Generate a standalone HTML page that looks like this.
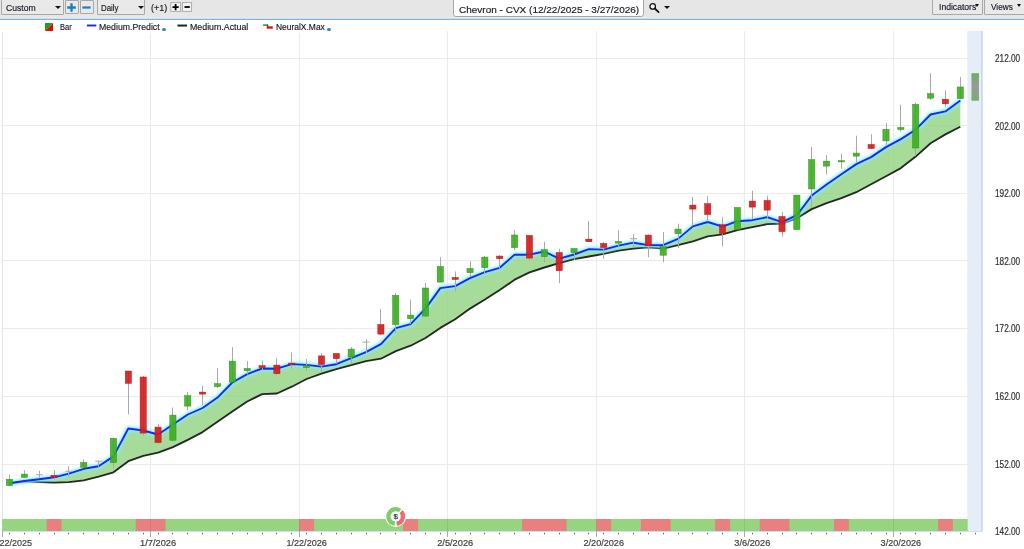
<!DOCTYPE html>
<html><head><meta charset="utf-8"><title>Chevron - CVX</title>
<style>
html,body{margin:0;padding:0;background:#fff;overflow:hidden}
body{width:1024px;height:549px;position:relative;font-family:"Liberation Sans",sans-serif;font-size:8.7px;color:#1a1a2a}
#chart{position:absolute;left:0;top:0}
#tb{position:absolute;left:0;top:0;width:1024px;height:17px;background:#e6e6e6;border-bottom:1px solid #edebe9}
#tbl{position:absolute;left:0;top:18px;width:1024px;height:1px;background:#d3dde6;border-bottom:1px solid #7ab7e1}
.box{position:absolute;top:-3px;height:17.5px;border:1px solid #a8a8a8;border-radius:1px;background:#e9e9e9;box-sizing:border-box}
.t{position:absolute;white-space:nowrap;line-height:1;transform-origin:0 0;color:#15151f;-webkit-text-stroke:0.15px #15151f}
.arr{position:absolute;width:0;height:0;border-left:3px solid transparent;border-right:3px solid transparent;border-top:3.4px solid #111}
.arr2{border-left-width:2.3px;border-right-width:2.3px;border-top-width:3px}
.lg{position:absolute;white-space:nowrap;line-height:1;top:23.3px;font-size:8.7px;color:#1a1a2a}
</style></head><body>
<svg id="chart" width="1024" height="549" viewBox="0 0 1024 549">
<defs><filter id="glow" x="-5%" y="-5%" width="110%" height="110%"><feGaussianBlur stdDeviation="1.6"/></filter><linearGradient id="ghost" x1="0" y1="0" x2="0" y2="1"><stop offset="0" stop-color="#63b356"/><stop offset="0.45" stop-color="#9a9a9a"/><stop offset="1" stop-color="#78ad6f"/></linearGradient><pattern id="hatch" width="2" height="2" patternUnits="userSpaceOnUse"><rect width="2" height="2" fill="#e8eff8"/><rect width="1" height="1" fill="#e1eaf5"/><rect x="1" y="1" width="1" height="1" fill="#e1eaf5"/></pattern></defs>
<rect x="967.3" y="31" width="15" height="500.5" fill="url(#hatch)"/>
<rect x="981.2" y="31" width="1.5" height="500.5" fill="#c3d9ee"/>
<rect x="2" y="58" width="979.5" height="1" fill="#ebebeb"/>
<rect x="2" y="125" width="979.5" height="1" fill="#ebebeb"/>
<rect x="2" y="193" width="979.5" height="1" fill="#ebebeb"/>
<rect x="2" y="260" width="979.5" height="1" fill="#ebebeb"/>
<rect x="2" y="328" width="979.5" height="1" fill="#ebebeb"/>
<rect x="2" y="396" width="979.5" height="1" fill="#ebebeb"/>
<rect x="2" y="464" width="979.5" height="1" fill="#ebebeb"/>
<rect x="150" y="31" width="1" height="500" fill="#ebebeb"/>
<rect x="299" y="31" width="1" height="500" fill="#ebebeb"/>
<rect x="447" y="31" width="1" height="500" fill="#ebebeb"/>
<rect x="596" y="31" width="1" height="500" fill="#ebebeb"/>
<rect x="744" y="31" width="1" height="500" fill="#ebebeb"/>
<rect x="893" y="31" width="1" height="500" fill="#ebebeb"/>
<rect x="2" y="32" width="1" height="499" fill="#e4e4e4"/>
<polygon fill="#91d281" fill-opacity="0.8" points="9.5,483.3 24.4,481.0 39.2,479.3 54.1,477.3 68.9,473.7 83.8,468.8 98.6,466.2 113.5,456.4 128.3,428.5 143.2,430.5 158.1,434.5 172.9,424.5 187.8,414.5 202.6,408.0 217.5,397.6 232.3,382.5 247.2,374.1 262.1,368.5 276.9,368.7 291.8,364.1 306.6,364.9 321.5,366.6 336.3,364.2 351.2,358.1 366.0,352.1 380.9,344.1 395.8,328.1 410.6,324.1 425.5,308.6 440.3,288.1 455.2,286.1 470.0,278.1 484.9,272.1 499.7,267.8 514.6,254.6 529.5,254.7 544.3,251.5 559.2,258.7 574.0,254.5 588.9,249.1 603.7,249.6 618.6,245.7 633.5,242.7 648.3,245.1 663.2,245.2 678.0,238.9 692.9,226.4 707.7,222.0 722.6,226.7 737.4,221.2 752.3,220.2 767.2,217.2 782.0,222.2 796.9,215.2 811.7,195.6 826.6,184.6 841.4,174.2 856.3,164.1 871.1,157.1 886.0,147.1 900.9,139.1 915.7,129.7 930.6,114.5 945.4,111.4 960.3,100.5 960.3,126.8 945.4,134.4 930.6,143.3 915.7,156.6 900.9,168.1 886.0,176.2 871.1,184.2 856.3,192.2 841.4,198.2 826.6,203.1 811.7,209.1 796.9,218.2 782.0,223.6 767.2,224.2 752.3,227.2 737.4,230.2 722.6,234.3 707.7,236.3 692.9,241.3 678.0,245.2 663.2,248.6 648.3,247.4 633.5,248.7 618.6,250.6 603.7,253.8 588.9,256.5 574.0,259.1 559.2,263.1 544.3,267.5 529.5,272.4 514.6,279.7 499.7,290.0 484.9,299.5 470.0,308.6 455.2,319.2 440.3,327.9 425.5,338.0 410.6,345.7 395.8,351.1 380.9,358.7 366.0,361.1 351.2,365.2 336.3,369.2 321.5,373.6 306.6,379.0 291.8,386.7 276.9,393.5 262.1,394.1 247.2,401.5 232.3,411.4 217.5,421.8 202.6,432.1 187.8,439.8 172.9,447.2 158.1,452.6 143.2,455.8 128.3,461.2 113.5,472.3 98.6,476.7 83.8,480.3 68.9,482.1 54.1,482.7 39.2,482.1 24.4,481.3 9.5,483.3"/>
<polyline fill="none" stroke="#262626" stroke-width="1.85" stroke-linejoin="round" points="9.5,483.3 24.4,481.3 39.2,482.1 54.1,482.7 68.9,482.1 83.8,480.3 98.6,476.7 113.5,472.3 128.3,461.2 143.2,455.8 158.1,452.6 172.9,447.2 187.8,439.8 202.6,432.1 217.5,421.8 232.3,411.4 247.2,401.5 262.1,394.1 276.9,393.5 291.8,386.7 306.6,379.0 321.5,373.6 336.3,369.2 351.2,365.2 366.0,361.1 380.9,358.7 395.8,351.1 410.6,345.7 425.5,338.0 440.3,327.9 455.2,319.2 470.0,308.6 484.9,299.5 499.7,290.0 514.6,279.7 529.5,272.4 544.3,267.5 559.2,263.1 574.0,259.1 588.9,256.5 603.7,253.8 618.6,250.6 633.5,248.7 648.3,247.4 663.2,248.6 678.0,245.2 692.9,241.3 707.7,236.3 722.6,234.3 737.4,230.2 752.3,227.2 767.2,224.2 782.0,223.6 796.9,218.2 811.7,209.1 826.6,203.1 841.4,198.2 856.3,192.2 871.1,184.2 886.0,176.2 900.9,168.1 915.7,156.6 930.6,143.3 945.4,134.4 960.3,126.8"/>
<polyline fill="none" stroke="#7ff0ff" stroke-width="4.5" stroke-linejoin="round" filter="url(#glow)" points="9.5,483.3 24.4,481.0 39.2,479.3 54.1,477.3 68.9,473.7 83.8,468.8 98.6,466.2 113.5,456.4 128.3,428.5 143.2,430.5 158.1,434.5 172.9,424.5 187.8,414.5 202.6,408.0 217.5,397.6 232.3,382.5 247.2,374.1 262.1,368.5 276.9,368.7 291.8,364.1 306.6,364.9 321.5,366.6 336.3,364.2 351.2,358.1 366.0,352.1 380.9,344.1 395.8,328.1 410.6,324.1 425.5,308.6 440.3,288.1 455.2,286.1 470.0,278.1 484.9,272.1 499.7,267.8 514.6,254.6 529.5,254.7 544.3,251.5 559.2,258.7 574.0,254.5 588.9,249.1 603.7,249.6 618.6,245.7 633.5,242.7 648.3,245.1 663.2,245.2 678.0,238.9 692.9,226.4 707.7,222.0 722.6,226.7 737.4,221.2 752.3,220.2 767.2,217.2 782.0,222.2 796.9,215.2 811.7,195.6 826.6,184.6 841.4,174.2 856.3,164.1 871.1,157.1 886.0,147.1 900.9,139.1 915.7,129.7 930.6,114.5 945.4,111.4 960.3,100.5"/>
<polyline fill="none" stroke="#1a28f0" stroke-width="1.88" stroke-linejoin="round" points="9.5,483.3 24.4,481.0 39.2,479.3 54.1,477.3 68.9,473.7 83.8,468.8 98.6,466.2 113.5,456.4 128.3,428.5 143.2,430.5 158.1,434.5 172.9,424.5 187.8,414.5 202.6,408.0 217.5,397.6 232.3,382.5 247.2,374.1 262.1,368.5 276.9,368.7 291.8,364.1 306.6,364.9 321.5,366.6 336.3,364.2 351.2,358.1 366.0,352.1 380.9,344.1 395.8,328.1 410.6,324.1 425.5,308.6 440.3,288.1 455.2,286.1 470.0,278.1 484.9,272.1 499.7,267.8 514.6,254.6 529.5,254.7 544.3,251.5 559.2,258.7 574.0,254.5 588.9,249.1 603.7,249.6 618.6,245.7 633.5,242.7 648.3,245.1 663.2,245.2 678.0,238.9 692.9,226.4 707.7,222.0 722.6,226.7 737.4,221.2 752.3,220.2 767.2,217.2 782.0,222.2 796.9,215.2 811.7,195.6 826.6,184.6 841.4,174.2 856.3,164.1 871.1,157.1 886.0,147.1 900.9,139.1 915.7,129.7 930.6,114.5 945.4,111.4 960.3,100.5"/>
<rect x="9" y="474.7" width="1" height="10.9" fill="#a9a9a9"/>
<rect x="6.40" y="479.3" width="6.2" height="6.3" fill="#3aae1e" fill-opacity="0.9" stroke="#2f8f1c" stroke-width="0.5"/>
<rect x="24" y="470.2" width="1" height="7.8" fill="#a9a9a9"/>
<rect x="21.26" y="474.1" width="6.2" height="3.2" fill="#3aae1e" fill-opacity="0.9" stroke="#2f8f1c" stroke-width="0.5"/>
<rect x="39" y="470.8" width="1" height="6.9" fill="#a9a9a9"/>
<rect x="35.71" y="474.2" width="7" height="1" fill="#acacac"/>
<rect x="54" y="470.2" width="1" height="9.5" fill="#a9a9a9"/>
<rect x="50.97" y="475.3" width="6.2" height="2.0" fill="#d21a1a" fill-opacity="0.9" stroke="#b81818" stroke-width="0.5"/>
<rect x="68" y="466.2" width="1" height="10.5" fill="#a9a9a9"/>
<rect x="65.42" y="470.8" width="7" height="1" fill="#acacac"/>
<rect x="83" y="459.4" width="1" height="7.8" fill="#a9a9a9"/>
<rect x="80.68" y="462.4" width="6.2" height="4.8" fill="#3aae1e" fill-opacity="0.9" stroke="#2f8f1c" stroke-width="0.5"/>
<rect x="98" y="460.8" width="1" height="6.0" fill="#a9a9a9"/>
<rect x="95.14" y="460.7" width="7" height="1" fill="#acacac"/>
<rect x="113" y="438.3" width="1" height="30.2" fill="#a9a9a9"/>
<rect x="110.39" y="438.3" width="6.2" height="24.3" fill="#3aae1e" fill-opacity="0.9" stroke="#2f8f1c" stroke-width="0.5"/>
<rect x="128" y="371.0" width="1" height="43.5" fill="#a9a9a9"/>
<rect x="125.25" y="371.0" width="6.2" height="12.4" fill="#d21a1a" fill-opacity="0.9" stroke="#b81818" stroke-width="0.5"/>
<rect x="143" y="376.0" width="1" height="59.7" fill="#a9a9a9"/>
<rect x="140.10" y="377.0" width="6.2" height="56.1" fill="#d21a1a" fill-opacity="0.9" stroke="#b81818" stroke-width="0.5"/>
<rect x="158" y="423.7" width="1" height="20.5" fill="#a9a9a9"/>
<rect x="154.96" y="427.1" width="6.2" height="15.5" fill="#d21a1a" fill-opacity="0.9" stroke="#b81818" stroke-width="0.5"/>
<rect x="172" y="407.5" width="1" height="34.7" fill="#a9a9a9"/>
<rect x="169.82" y="415.1" width="6.2" height="25.1" fill="#3aae1e" fill-opacity="0.9" stroke="#2f8f1c" stroke-width="0.5"/>
<rect x="187" y="391.7" width="1" height="18.4" fill="#a9a9a9"/>
<rect x="184.67" y="395.7" width="6.2" height="10.4" fill="#3aae1e" fill-opacity="0.9" stroke="#2f8f1c" stroke-width="0.5"/>
<rect x="202" y="386.1" width="1" height="19.0" fill="#a9a9a9"/>
<rect x="199.53" y="392.1" width="6.2" height="2.0" fill="#d21a1a" fill-opacity="0.9" stroke="#b81818" stroke-width="0.5"/>
<rect x="217" y="368.0" width="1" height="19.7" fill="#a9a9a9"/>
<rect x="214.38" y="383.7" width="6.2" height="2.9" fill="#3aae1e" fill-opacity="0.9" stroke="#2f8f1c" stroke-width="0.5"/>
<rect x="232" y="347.1" width="1" height="35.0" fill="#a9a9a9"/>
<rect x="229.24" y="361.1" width="6.2" height="21.0" fill="#3aae1e" fill-opacity="0.9" stroke="#2f8f1c" stroke-width="0.5"/>
<rect x="247" y="361.1" width="1" height="13.4" fill="#a9a9a9"/>
<rect x="244.10" y="368.5" width="6.2" height="2.2" fill="#3aae1e" fill-opacity="0.9" stroke="#2f8f1c" stroke-width="0.5"/>
<rect x="262" y="360.7" width="1" height="9.4" fill="#a9a9a9"/>
<rect x="258.95" y="365.7" width="6.2" height="2.0" fill="#d21a1a" fill-opacity="0.9" stroke="#b81818" stroke-width="0.5"/>
<rect x="276" y="358.1" width="1" height="17.0" fill="#a9a9a9"/>
<rect x="273.81" y="365.1" width="6.2" height="8.6" fill="#d21a1a" fill-opacity="0.9" stroke="#b81818" stroke-width="0.5"/>
<rect x="291" y="352.5" width="1" height="16.2" fill="#a9a9a9"/>
<rect x="288.66" y="363.1" width="6.2" height="1.2" fill="#d21a1a" fill-opacity="0.9" stroke="#b81818" stroke-width="0.5"/>
<rect x="306" y="359.1" width="1" height="12.0" fill="#a9a9a9"/>
<rect x="303.52" y="365.5" width="6.2" height="2.0" fill="#3aae1e" fill-opacity="0.9" stroke="#2f8f1c" stroke-width="0.5"/>
<rect x="321" y="353.1" width="1" height="19.5" fill="#a9a9a9"/>
<rect x="318.38" y="355.9" width="6.2" height="8.6" fill="#d21a1a" fill-opacity="0.9" stroke="#b81818" stroke-width="0.5"/>
<rect x="336" y="353.5" width="1" height="10.3" fill="#a9a9a9"/>
<rect x="333.23" y="353.5" width="6.2" height="5.2" fill="#d21a1a" fill-opacity="0.9" stroke="#b81818" stroke-width="0.5"/>
<rect x="351" y="347.1" width="1" height="17.1" fill="#a9a9a9"/>
<rect x="348.09" y="349.1" width="6.2" height="8.0" fill="#3aae1e" fill-opacity="0.9" stroke="#2f8f1c" stroke-width="0.5"/>
<rect x="366" y="339.1" width="1" height="14.0" fill="#a9a9a9"/>
<rect x="362.54" y="341.6" width="7" height="1" fill="#acacac"/>
<rect x="380" y="309.1" width="1" height="26.0" fill="#a9a9a9"/>
<rect x="377.80" y="324.5" width="6.2" height="9.6" fill="#d21a1a" fill-opacity="0.9" stroke="#b81818" stroke-width="0.5"/>
<rect x="395" y="293.0" width="1" height="40.1" fill="#a9a9a9"/>
<rect x="392.66" y="295.4" width="6.2" height="29.1" fill="#3aae1e" fill-opacity="0.9" stroke="#2f8f1c" stroke-width="0.5"/>
<rect x="410" y="299.6" width="1" height="24.5" fill="#a9a9a9"/>
<rect x="407.51" y="315.1" width="6.2" height="3.6" fill="#3aae1e" fill-opacity="0.9" stroke="#2f8f1c" stroke-width="0.5"/>
<rect x="425" y="283.0" width="1" height="33.1" fill="#a9a9a9"/>
<rect x="422.37" y="288.0" width="6.2" height="28.1" fill="#3aae1e" fill-opacity="0.9" stroke="#2f8f1c" stroke-width="0.5"/>
<rect x="440" y="257.1" width="1" height="25.0" fill="#a9a9a9"/>
<rect x="437.22" y="266.5" width="6.2" height="15.6" fill="#3aae1e" fill-opacity="0.9" stroke="#2f8f1c" stroke-width="0.5"/>
<rect x="455" y="271.5" width="1" height="20.0" fill="#a9a9a9"/>
<rect x="452.08" y="277.5" width="6.2" height="2.0" fill="#d21a1a" fill-opacity="0.9" stroke="#b81818" stroke-width="0.5"/>
<rect x="470" y="261.1" width="1" height="16.0" fill="#a9a9a9"/>
<rect x="466.94" y="268.5" width="6.2" height="4.2" fill="#3aae1e" fill-opacity="0.9" stroke="#2f8f1c" stroke-width="0.5"/>
<rect x="484" y="256.0" width="1" height="18.1" fill="#a9a9a9"/>
<rect x="481.79" y="257.1" width="6.2" height="10.6" fill="#3aae1e" fill-opacity="0.9" stroke="#2f8f1c" stroke-width="0.5"/>
<rect x="499" y="255.0" width="1" height="13.7" fill="#a9a9a9"/>
<rect x="496.65" y="256.1" width="6.2" height="2.6" fill="#d21a1a" fill-opacity="0.9" stroke="#b81818" stroke-width="0.5"/>
<rect x="514" y="230.0" width="1" height="20.3" fill="#a9a9a9"/>
<rect x="511.50" y="235.0" width="6.2" height="12.6" fill="#3aae1e" fill-opacity="0.9" stroke="#2f8f1c" stroke-width="0.5"/>
<rect x="529" y="235.5" width="1" height="24.6" fill="#a9a9a9"/>
<rect x="526.36" y="235.5" width="6.2" height="22.6" fill="#d21a1a" fill-opacity="0.9" stroke="#b81818" stroke-width="0.5"/>
<rect x="544" y="241.7" width="1" height="20.8" fill="#a9a9a9"/>
<rect x="541.22" y="249.7" width="6.2" height="7.0" fill="#3aae1e" fill-opacity="0.9" stroke="#2f8f1c" stroke-width="0.5"/>
<rect x="559" y="248.7" width="1" height="34.4" fill="#a9a9a9"/>
<rect x="556.07" y="252.5" width="6.2" height="18.2" fill="#d21a1a" fill-opacity="0.9" stroke="#b81818" stroke-width="0.5"/>
<rect x="574" y="248.5" width="1" height="11.6" fill="#a9a9a9"/>
<rect x="570.93" y="248.5" width="6.2" height="4.2" fill="#3aae1e" fill-opacity="0.9" stroke="#2f8f1c" stroke-width="0.5"/>
<rect x="588" y="221.0" width="1" height="20.7" fill="#a9a9a9"/>
<rect x="585.78" y="239.1" width="6.2" height="2.6" fill="#d21a1a" fill-opacity="0.9" stroke="#b81818" stroke-width="0.5"/>
<rect x="603" y="242.0" width="1" height="16.7" fill="#a9a9a9"/>
<rect x="600.64" y="243.5" width="6.2" height="4.0" fill="#d21a1a" fill-opacity="0.9" stroke="#b81818" stroke-width="0.5"/>
<rect x="618" y="230.1" width="1" height="17.0" fill="#a9a9a9"/>
<rect x="615.50" y="241.5" width="6.2" height="1.6" fill="#3aae1e" fill-opacity="0.9" stroke="#2f8f1c" stroke-width="0.5"/>
<rect x="633" y="234.1" width="1" height="14.0" fill="#a9a9a9"/>
<rect x="629.95" y="238.2" width="7" height="1" fill="#acacac"/>
<rect x="648" y="234.5" width="1" height="22.7" fill="#a9a9a9"/>
<rect x="645.21" y="235.1" width="6.2" height="10.4" fill="#d21a1a" fill-opacity="0.9" stroke="#b81818" stroke-width="0.5"/>
<rect x="663" y="232.1" width="1" height="30.1" fill="#a9a9a9"/>
<rect x="660.06" y="246.7" width="6.2" height="8.5" fill="#3aae1e" fill-opacity="0.9" stroke="#2f8f1c" stroke-width="0.5"/>
<rect x="678" y="223.7" width="1" height="24.4" fill="#a9a9a9"/>
<rect x="674.92" y="229.1" width="6.2" height="4.6" fill="#3aae1e" fill-opacity="0.9" stroke="#2f8f1c" stroke-width="0.5"/>
<rect x="692" y="197.1" width="1" height="29.0" fill="#a9a9a9"/>
<rect x="689.78" y="205.1" width="6.2" height="4.0" fill="#d21a1a" fill-opacity="0.9" stroke="#b81818" stroke-width="0.5"/>
<rect x="707" y="196.3" width="1" height="25.3" fill="#a9a9a9"/>
<rect x="704.63" y="203.7" width="6.2" height="10.8" fill="#d21a1a" fill-opacity="0.9" stroke="#b81818" stroke-width="0.5"/>
<rect x="722" y="217.1" width="1" height="29.4" fill="#a9a9a9"/>
<rect x="719.49" y="224.7" width="6.2" height="8.8" fill="#d21a1a" fill-opacity="0.9" stroke="#b81818" stroke-width="0.5"/>
<rect x="737" y="207.5" width="1" height="22.0" fill="#a9a9a9"/>
<rect x="734.34" y="207.5" width="6.2" height="22.0" fill="#3aae1e" fill-opacity="0.9" stroke="#2f8f1c" stroke-width="0.5"/>
<rect x="752" y="190.7" width="1" height="28.4" fill="#a9a9a9"/>
<rect x="749.20" y="201.1" width="6.2" height="6.0" fill="#d21a1a" fill-opacity="0.9" stroke="#b81818" stroke-width="0.5"/>
<rect x="767" y="195.7" width="1" height="22.4" fill="#a9a9a9"/>
<rect x="764.06" y="200.5" width="6.2" height="9.6" fill="#d21a1a" fill-opacity="0.9" stroke="#b81818" stroke-width="0.5"/>
<rect x="782" y="212.1" width="1" height="24.5" fill="#a9a9a9"/>
<rect x="778.91" y="216.5" width="6.2" height="15.1" fill="#d21a1a" fill-opacity="0.9" stroke="#b81818" stroke-width="0.5"/>
<rect x="796" y="195.1" width="1" height="34.5" fill="#a9a9a9"/>
<rect x="793.77" y="195.1" width="6.2" height="34.5" fill="#3aae1e" fill-opacity="0.9" stroke="#2f8f1c" stroke-width="0.5"/>
<rect x="811" y="147.0" width="1" height="61.0" fill="#a9a9a9"/>
<rect x="808.62" y="159.7" width="6.2" height="29.2" fill="#3aae1e" fill-opacity="0.9" stroke="#2f8f1c" stroke-width="0.5"/>
<rect x="826" y="155.0" width="1" height="19.5" fill="#a9a9a9"/>
<rect x="823.48" y="161.1" width="6.2" height="5.0" fill="#3aae1e" fill-opacity="0.9" stroke="#2f8f1c" stroke-width="0.5"/>
<rect x="841" y="153.7" width="1" height="15.0" fill="#a9a9a9"/>
<rect x="838.34" y="160.7" width="6.2" height="1.2" fill="#3aae1e" fill-opacity="0.9" stroke="#2f8f1c" stroke-width="0.5"/>
<rect x="856" y="135.7" width="1" height="26.8" fill="#a9a9a9"/>
<rect x="853.19" y="153.1" width="6.2" height="3.0" fill="#3aae1e" fill-opacity="0.9" stroke="#2f8f1c" stroke-width="0.5"/>
<rect x="871" y="134.2" width="1" height="14.3" fill="#a9a9a9"/>
<rect x="868.05" y="144.5" width="6.2" height="4.0" fill="#d21a1a" fill-opacity="0.9" stroke="#b81818" stroke-width="0.5"/>
<rect x="886" y="123.0" width="1" height="22.1" fill="#a9a9a9"/>
<rect x="882.90" y="129.4" width="6.2" height="11.5" fill="#3aae1e" fill-opacity="0.9" stroke="#2f8f1c" stroke-width="0.5"/>
<rect x="900" y="104.8" width="1" height="26.7" fill="#a9a9a9"/>
<rect x="897.76" y="127.5" width="6.2" height="2.1" fill="#3aae1e" fill-opacity="0.9" stroke="#2f8f1c" stroke-width="0.5"/>
<rect x="915" y="102.7" width="1" height="53.2" fill="#a9a9a9"/>
<rect x="912.62" y="104.4" width="6.2" height="43.6" fill="#3aae1e" fill-opacity="0.9" stroke="#2f8f1c" stroke-width="0.5"/>
<rect x="930" y="73.2" width="1" height="26.8" fill="#a9a9a9"/>
<rect x="927.47" y="93.6" width="6.2" height="4.6" fill="#3aae1e" fill-opacity="0.9" stroke="#2f8f1c" stroke-width="0.5"/>
<rect x="945" y="90.3" width="1" height="16.6" fill="#a9a9a9"/>
<rect x="942.33" y="99.2" width="6.2" height="4.6" fill="#d21a1a" fill-opacity="0.9" stroke="#b81818" stroke-width="0.5"/>
<rect x="960" y="77.0" width="1" height="21.6" fill="#a9a9a9"/>
<rect x="957.18" y="87.0" width="6.2" height="11.6" fill="#3aae1e" fill-opacity="0.9" stroke="#2f8f1c" stroke-width="0.5"/>
<rect x="971.44" y="73.2" width="7.5" height="27.5" fill="url(#ghost)"/>
<rect x="2.07" y="519" width="965.64" height="12" fill="#96d480"/>
<rect x="46.64" y="519" width="14.86" height="12" fill="#e88080"/>
<rect x="135.78" y="519" width="29.71" height="12" fill="#e88080"/>
<rect x="299.19" y="519" width="14.86" height="12" fill="#e88080"/>
<rect x="403.18" y="519" width="14.86" height="12" fill="#e88080"/>
<rect x="522.03" y="519" width="44.57" height="12" fill="#e88080"/>
<rect x="596.31" y="519" width="14.86" height="12" fill="#e88080"/>
<rect x="640.88" y="519" width="29.71" height="12" fill="#e88080"/>
<rect x="715.16" y="519" width="14.86" height="12" fill="#e88080"/>
<rect x="759.73" y="519" width="29.71" height="12" fill="#e88080"/>
<rect x="834.01" y="519" width="14.86" height="12" fill="#e88080"/>
<rect x="938.00" y="519" width="14.86" height="12" fill="#e88080"/>
<rect x="150" y="519" width="1" height="12" fill="#000" fill-opacity="0.07"/>
<rect x="299" y="519" width="1" height="12" fill="#000" fill-opacity="0.07"/>
<rect x="447" y="519" width="1" height="12" fill="#000" fill-opacity="0.07"/>
<rect x="596" y="519" width="1" height="12" fill="#000" fill-opacity="0.07"/>
<rect x="744" y="519" width="1" height="12" fill="#000" fill-opacity="0.07"/>
<rect x="893" y="519" width="1" height="12" fill="#000" fill-opacity="0.07"/>
<rect x="2" y="531" width="980" height="1" fill="#cfe0ea"/>
<rect x="9" y="532.8" width="1" height="1.5" fill="#666"/>
<rect x="24" y="532.8" width="1" height="1.5" fill="#666"/>
<rect x="39" y="532.8" width="1" height="1.5" fill="#666"/>
<rect x="54" y="532.8" width="1" height="1.5" fill="#666"/>
<rect x="68" y="532.8" width="1" height="1.5" fill="#666"/>
<rect x="83" y="532.8" width="1" height="1.5" fill="#666"/>
<rect x="98" y="532.8" width="1" height="1.5" fill="#666"/>
<rect x="113" y="532.8" width="1" height="1.5" fill="#666"/>
<rect x="128" y="532.8" width="1" height="1.5" fill="#666"/>
<rect x="143" y="532.8" width="1" height="1.5" fill="#666"/>
<rect x="158" y="532.8" width="1" height="1.5" fill="#666"/>
<rect x="172" y="532.8" width="1" height="1.5" fill="#666"/>
<rect x="187" y="532.8" width="1" height="1.5" fill="#666"/>
<rect x="202" y="532.8" width="1" height="1.5" fill="#666"/>
<rect x="217" y="532.8" width="1" height="1.5" fill="#666"/>
<rect x="232" y="532.8" width="1" height="1.5" fill="#666"/>
<rect x="247" y="532.8" width="1" height="1.5" fill="#666"/>
<rect x="262" y="532.8" width="1" height="1.5" fill="#666"/>
<rect x="276" y="532.8" width="1" height="1.5" fill="#666"/>
<rect x="291" y="532.8" width="1" height="1.5" fill="#666"/>
<rect x="306" y="532.8" width="1" height="1.5" fill="#666"/>
<rect x="321" y="532.8" width="1" height="1.5" fill="#666"/>
<rect x="336" y="532.8" width="1" height="1.5" fill="#666"/>
<rect x="351" y="532.8" width="1" height="1.5" fill="#666"/>
<rect x="366" y="532.8" width="1" height="1.5" fill="#666"/>
<rect x="380" y="532.8" width="1" height="1.5" fill="#666"/>
<rect x="395" y="532.8" width="1" height="1.5" fill="#666"/>
<rect x="410" y="532.8" width="1" height="1.5" fill="#666"/>
<rect x="425" y="532.8" width="1" height="1.5" fill="#666"/>
<rect x="440" y="532.8" width="1" height="1.5" fill="#666"/>
<rect x="455" y="532.8" width="1" height="1.5" fill="#666"/>
<rect x="470" y="532.8" width="1" height="1.5" fill="#666"/>
<rect x="484" y="532.8" width="1" height="1.5" fill="#666"/>
<rect x="499" y="532.8" width="1" height="1.5" fill="#666"/>
<rect x="514" y="532.8" width="1" height="1.5" fill="#666"/>
<rect x="529" y="532.8" width="1" height="1.5" fill="#666"/>
<rect x="544" y="532.8" width="1" height="1.5" fill="#666"/>
<rect x="559" y="532.8" width="1" height="1.5" fill="#666"/>
<rect x="574" y="532.8" width="1" height="1.5" fill="#666"/>
<rect x="588" y="532.8" width="1" height="1.5" fill="#666"/>
<rect x="603" y="532.8" width="1" height="1.5" fill="#666"/>
<rect x="618" y="532.8" width="1" height="1.5" fill="#666"/>
<rect x="633" y="532.8" width="1" height="1.5" fill="#666"/>
<rect x="648" y="532.8" width="1" height="1.5" fill="#666"/>
<rect x="663" y="532.8" width="1" height="1.5" fill="#666"/>
<rect x="678" y="532.8" width="1" height="1.5" fill="#666"/>
<rect x="692" y="532.8" width="1" height="1.5" fill="#666"/>
<rect x="707" y="532.8" width="1" height="1.5" fill="#666"/>
<rect x="722" y="532.8" width="1" height="1.5" fill="#666"/>
<rect x="737" y="532.8" width="1" height="1.5" fill="#666"/>
<rect x="752" y="532.8" width="1" height="1.5" fill="#666"/>
<rect x="767" y="532.8" width="1" height="1.5" fill="#666"/>
<rect x="782" y="532.8" width="1" height="1.5" fill="#666"/>
<rect x="796" y="532.8" width="1" height="1.5" fill="#666"/>
<rect x="811" y="532.8" width="1" height="1.5" fill="#666"/>
<rect x="826" y="532.8" width="1" height="1.5" fill="#666"/>
<rect x="841" y="532.8" width="1" height="1.5" fill="#666"/>
<rect x="856" y="532.8" width="1" height="1.5" fill="#666"/>
<rect x="871" y="532.8" width="1" height="1.5" fill="#666"/>
<rect x="886" y="532.8" width="1" height="1.5" fill="#666"/>
<rect x="900" y="532.8" width="1" height="1.5" fill="#666"/>
<rect x="915" y="532.8" width="1" height="1.5" fill="#666"/>
<rect x="930" y="532.8" width="1" height="1.5" fill="#666"/>
<rect x="945" y="532.8" width="1" height="1.5" fill="#666"/>
<rect x="960" y="532.8" width="1" height="1.5" fill="#666"/>
<rect x="975" y="532.8" width="1" height="1.5" fill="#666"/>
<rect x="150" y="531" width="1" height="6" fill="#aaa"/>
<rect x="299" y="531" width="1" height="6" fill="#aaa"/>
<rect x="447" y="531" width="1" height="6" fill="#aaa"/>
<rect x="596" y="531" width="1" height="6" fill="#aaa"/>
<rect x="744" y="531" width="1" height="6" fill="#aaa"/>
<rect x="893" y="531" width="1" height="6" fill="#aaa"/>
<rect x="2" y="531" width="1" height="6" fill="#aaa"/>
<circle cx="395.7" cy="516.4" r="10.5" fill="#fff"/>
<path d="M394.81,523.65 A7.3,7.3 0 1 1 400.09,510.57" fill="none" stroke="#7ccd68" stroke-width="4.2"/>
<path d="M401.12,511.52 A7.3,7.3 0 0 1 396.59,523.65" fill="none" stroke="#ea6e6e" stroke-width="4.2"/>
<text x="395.7" y="519.1999999999999" font-family="Liberation Sans, sans-serif" font-size="8" text-anchor="middle" fill="#1c2340" stroke="#1c2340" stroke-width="0.2">$</text>
<text x="-13.0" y="545.8" font-family="Liberation Sans, sans-serif" font-size="9.8" stroke="#3c3c3c" stroke-width="0.2" textLength="45.0" lengthAdjust="spacingAndGlyphs" fill="#3c3c3c">12/22/2025</text>
<text x="140.1" y="545.8" font-family="Liberation Sans, sans-serif" font-size="9.8" stroke="#3c3c3c" stroke-width="0.2" textLength="36.0" lengthAdjust="spacingAndGlyphs" fill="#3c3c3c">1/7/2026</text>
<text x="286.4" y="545.8" font-family="Liberation Sans, sans-serif" font-size="9.8" stroke="#3c3c3c" stroke-width="0.2" textLength="40.5" lengthAdjust="spacingAndGlyphs" fill="#3c3c3c">1/22/2026</text>
<text x="437.2" y="545.8" font-family="Liberation Sans, sans-serif" font-size="9.8" stroke="#3c3c3c" stroke-width="0.2" textLength="36.0" lengthAdjust="spacingAndGlyphs" fill="#3c3c3c">2/5/2026</text>
<text x="583.5" y="545.8" font-family="Liberation Sans, sans-serif" font-size="9.8" stroke="#3c3c3c" stroke-width="0.2" textLength="40.5" lengthAdjust="spacingAndGlyphs" fill="#3c3c3c">2/20/2026</text>
<text x="734.3" y="545.8" font-family="Liberation Sans, sans-serif" font-size="9.8" stroke="#3c3c3c" stroke-width="0.2" textLength="36.0" lengthAdjust="spacingAndGlyphs" fill="#3c3c3c">3/6/2026</text>
<text x="880.6" y="545.8" font-family="Liberation Sans, sans-serif" font-size="9.8" stroke="#3c3c3c" stroke-width="0.2" textLength="40.5" lengthAdjust="spacingAndGlyphs" fill="#3c3c3c">3/20/2026</text>
<text x="995" y="61.9" font-family="Liberation Sans, sans-serif" font-size="10.2" textLength="25.2" lengthAdjust="spacingAndGlyphs" fill="#303030" stroke="#303030" stroke-width="0.2">212.00</text>
<text x="995" y="129.5" font-family="Liberation Sans, sans-serif" font-size="10.2" textLength="25.2" lengthAdjust="spacingAndGlyphs" fill="#303030" stroke="#303030" stroke-width="0.2">202.00</text>
<text x="995" y="197.1" font-family="Liberation Sans, sans-serif" font-size="10.2" textLength="25.2" lengthAdjust="spacingAndGlyphs" fill="#303030" stroke="#303030" stroke-width="0.2">192.00</text>
<text x="995" y="264.8" font-family="Liberation Sans, sans-serif" font-size="10.2" textLength="25.2" lengthAdjust="spacingAndGlyphs" fill="#303030" stroke="#303030" stroke-width="0.2">182.00</text>
<text x="995" y="332.4" font-family="Liberation Sans, sans-serif" font-size="10.2" textLength="25.2" lengthAdjust="spacingAndGlyphs" fill="#303030" stroke="#303030" stroke-width="0.2">172.00</text>
<text x="995" y="400.0" font-family="Liberation Sans, sans-serif" font-size="10.2" textLength="25.2" lengthAdjust="spacingAndGlyphs" fill="#303030" stroke="#303030" stroke-width="0.2">162.00</text>
<text x="995" y="467.6" font-family="Liberation Sans, sans-serif" font-size="10.2" textLength="25.2" lengthAdjust="spacingAndGlyphs" fill="#303030" stroke="#303030" stroke-width="0.2">152.00</text>
<text x="995" y="535.2" font-family="Liberation Sans, sans-serif" font-size="10.2" textLength="25.2" lengthAdjust="spacingAndGlyphs" fill="#303030" stroke="#303030" stroke-width="0.2">142.00</text>
</svg>
<div id="tb">
 <div class="box" style="left:1px;width:62.5px"></div>
 <span class="t" style="left:5.6px;top:4.00px;font-size:9.1px;transform:scaleX(0.9476)">Custom</span>
 <div class="arr" style="left:54.8px;top:6.3px"></div>
 <div class="box" style="left:65.3px;width:13.4px;top:0.4px;height:13.8px"></div>
 <svg style="position:absolute;left:67.4px;top:3.3px" width="9" height="9" viewBox="0 0 9 9"><path d="M4.5 0.2V8.8M0.2 4.5H8.8" stroke="#1c7cc7" stroke-width="2.3" fill="none"/></svg>
 <div class="box" style="left:80px;width:13.6px;top:0.4px;height:13.8px"></div>
 <svg style="position:absolute;left:82.3px;top:3.3px" width="9" height="9" viewBox="0 0 9 9"><path d="M0.4 4.5H8.6" stroke="#1c7cc7" stroke-width="2.2" fill="none"/></svg>
 <div class="box" style="left:96.6px;width:48.6px"></div>
 <span class="t" style="left:100.5px;top:4.00px;font-size:9.1px;transform:scaleX(0.8655)">Daily</span>
 <div class="arr" style="left:138.3px;top:6.3px"></div>
 <span class="t" style="left:150.6px;top:4.00px;font-size:9.1px;transform:scaleX(0.9916)">(+1)</span>
 <svg style="position:absolute;left:170px;top:2px" width="23" height="11" viewBox="0 0 23 11"><rect x="0.8" y="0.6" width="9.8" height="8.8" fill="#f4f4f4" stroke="#a6a6a6" stroke-width="0.9"/><path d="M5.6 2.1V8.3M2.5 5.2H8.7" stroke="#000" stroke-width="1.8"/><rect x="12.4" y="0.6" width="9.2" height="8.8" fill="#f4f4f4" stroke="#a6a6a6" stroke-width="0.9"/><path d="M14.5 5H19.8" stroke="#000" stroke-width="1.8"/></svg>
 <div class="box" style="left:452.7px;width:191.8px;background:#fff;height:19.6px;border-radius:3px"></div>
 <span class="t" style="left:458.5px;top:4.72px;font-size:9.9px;transform:scaleX(1.0132)">Chevron - CVX (12/22/2025 - 3/27/2026)</span>
 <svg style="position:absolute;left:647.7px;top:1.7px" width="13" height="12" viewBox="0 0 13 12"><circle cx="4.7" cy="4.4" r="2.75" fill="#f2f2f2" stroke="#111" stroke-width="1.25"/><path d="M6.8 6.5L10.6 10.1" stroke="#111" stroke-width="1.8" stroke-linecap="round"/></svg>
 <div class="arr" style="left:663.5px;top:6.2px;border-top-width:3.7px"></div>
 <div class="box" style="left:932.3px;width:50.6px"></div>
 <span class="t" style="left:938.8px;top:3.18px;font-size:9.0px;transform:scaleX(0.9556)">Indicators</span>
 <div class="arr arr2" style="left:975.3px;top:4.4px"></div>
 <div class="box" style="left:984.3px;width:45px"></div>
 <span class="t" style="left:991.1px;top:3.18px;font-size:9.0px;transform:scaleX(0.9137)">Views</span>
 <div class="arr arr2" style="left:1016.8px;top:4.4px"></div>
</div>
<div id="tbl"></div>
<div style="position:absolute;left:40px;top:20px;width:296px;height:13px;background:#fff"></div>
<svg style="position:absolute;left:44.8px;top:22.9px" width="8" height="8" viewBox="0 0 8 8"><path d="M0 0H8L0 8Z" fill="#1fa01f"/><path d="M8 0V8H0Z" fill="#d41010"/></svg>
<span class="t" style="left:59.8px;top:23.22px;font-size:8.9px;transform:scaleX(0.8507)">Bar</span>
<svg style="position:absolute;left:84px;top:22px" width="16" height="8" viewBox="0 0 16 8"><defs><filter id="g2"><feGaussianBlur stdDeviation="1"/></filter></defs><path d="M2.9 3.5H12.3" stroke="#7fe8ff" stroke-width="3.8" filter="url(#g2)"/><path d="M2.9 3.5H12.3" stroke="#1a28f0" stroke-width="1.9"/></svg>
<span class="t" style="left:99.1px;top:23.12px;font-size:8.9px;transform:scaleX(0.9829)">Medium.Predict</span>
<span style="position:absolute;left:161.9px;top:27.6px;width:3.8px;height:3.8px;border-radius:50%;background:#3a8cb0"></span>
<svg style="position:absolute;left:176px;top:22px" width="13" height="8" viewBox="0 0 13 8"><rect x="1.5" y="2.55" width="9.5" height="2" fill="#222"/></svg>
<span class="t" style="left:190.0px;top:23.12px;font-size:8.9px;transform:scaleX(0.9931)">Medium.Actual</span>
<svg style="position:absolute;left:263px;top:23px" width="11" height="7" viewBox="0 0 11 7"><path d="M0.1 2.1H5.2" stroke="#1fa51f" stroke-width="1.6"/><path d="M4.6 1.6V4.2" stroke="#4a3a2a" stroke-width="1"/><path d="M3.7 4.5H9.8" stroke="#dc0f0f" stroke-width="2.4"/></svg>
<span class="t" style="left:276.0px;top:23.12px;font-size:8.9px;transform:scaleX(0.9513)">NeuralX.Max</span>
<span style="position:absolute;left:327.1px;top:27.6px;width:3.8px;height:3.8px;border-radius:50%;background:#3a8cb0"></span>
</body></html>
